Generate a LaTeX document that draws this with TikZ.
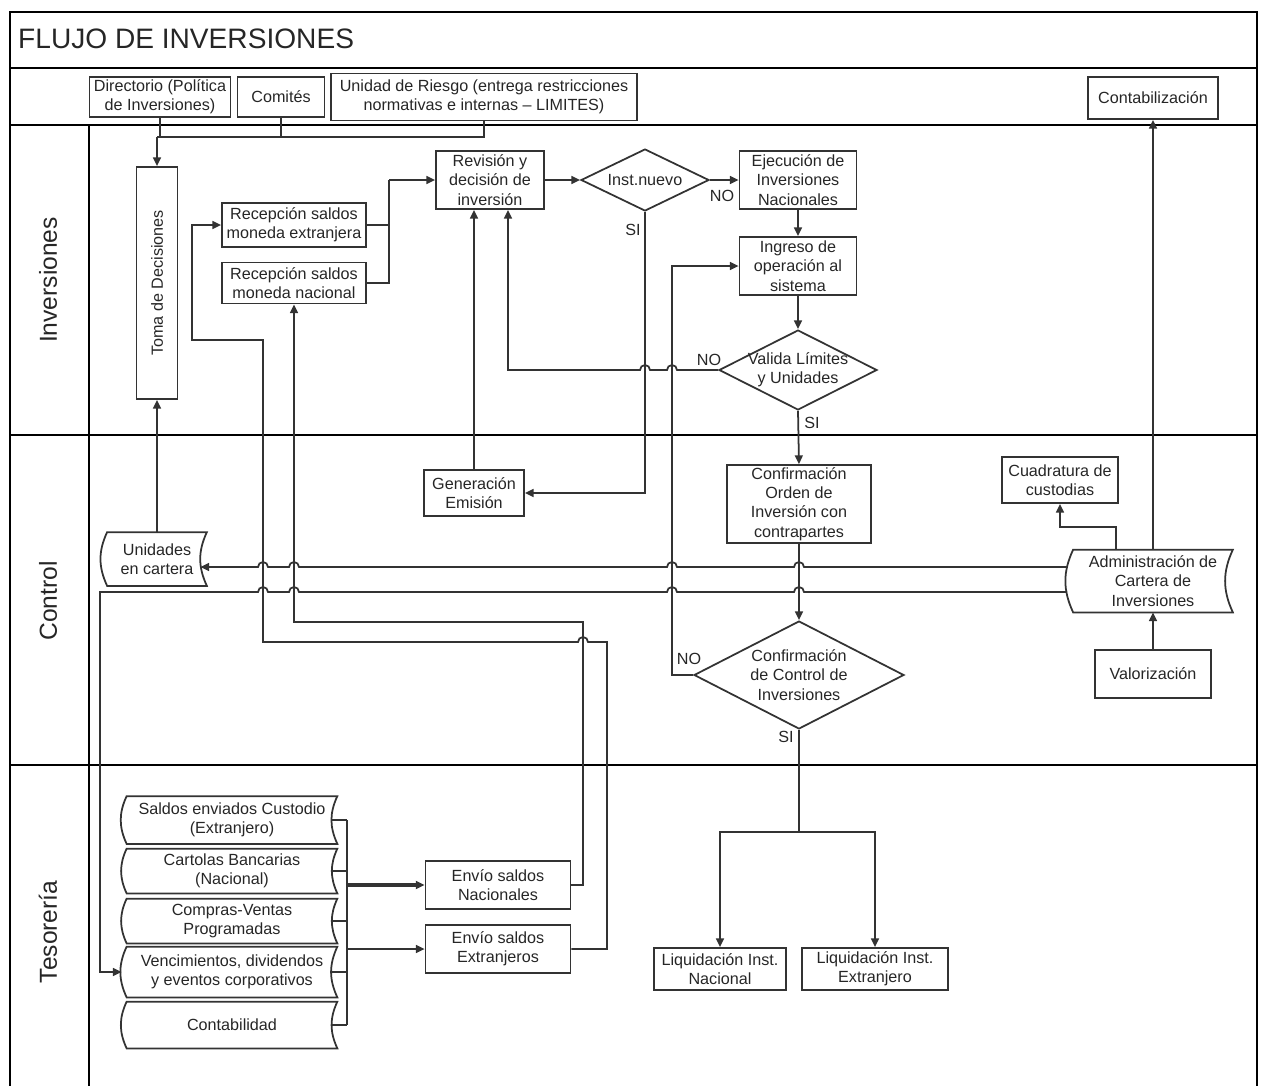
\documentclass[tikz,border=0pt]{standalone}
\usepackage{fontspec}
\setmainfont{Liberation Sans}
\usetikzlibrary{shapes.geometric,arrows.meta}
\newcommand\storedout[1]{
  \draw[conn] (#1.north west) to[bend right=25] (#1.south west)
    -- (#1.south east) to[bend left=25] (#1.north east) -- cycle;
}

\begin{document}
\begin{tikzpicture}[x=0.02cm, y=-0.02cm,
  conn/.style = {draw=black!80, line width=1pt},
  arr/.style = {conn, -{Triangle[length=5pt,width=4.5pt]}},
  box/.style = {draw=black!80, line width=1pt, rectangle, align=center, inner sep=1pt,
    font=\fontsize{9.2}{11}\selectfont, text=black!85},
  decision/.style = {box, diamond, aspect=2, inner sep=-3pt},
  doc/.style = {box, draw=none},
  lbl/.style = {font=\fontsize{9.2}{11}\selectfont, text=black!85, inner sep=0pt},
  lane/.style = {rotate=90, font=\fontsize{14}{16}\selectfont, text=black!85},
  frame/.style = {draw=black, line width=1.2pt}]
	\useasboundingbox (0,0) rectangle (1262,1086);
	% frame and lanes
	\draw[frame] (10,1086) -- (10,12) -- (1257,12) -- (1257,1086);
	\draw[frame] (10,68) -- (1257,68);
	\draw[frame] (10,125) -- (1257,125);
	\draw[frame] (10,435) -- (1257,435);
	\draw[frame] (10,765) -- (1257,765);
	\draw[frame] (89,125) -- (89,1086);
	\node[anchor=west, font=\fontsize{16}{19}\selectfont, text=black!85] (title) at (12,39) {FLUJO DE INVERSIONES};
	\node[lane] (linv) at (48,280) {Inversiones};
	\node[lane] (lctl) at (48,601) {Control};
	\node[lane] (ltes) at (48,932) {Tesorería};

	% header
	\node[box, minimum width=2.82cm, minimum height=0.8cm] (dir) at (160,97) {Directorio (Política\\de Inversiones)};
	\node[box, minimum width=1.74cm, minimum height=0.8cm] (com) at (281,97) {Comités};
	\node[box, minimum width=6.12cm, minimum height=0.94cm] (uni) at (484,97) {Unidad de Riesgo (entrega restricciones\\normativas e internas -- LIMITES)};
	\node[box, minimum width=2.6cm, minimum height=0.84cm] (conta) at (1153,98) {Contabilización};

	% inversiones
	\node[box, minimum width=0.82cm, minimum height=4.64cm] (toma) at (157,283) {\rotatebox{90}{Toma de Decisiones}};
	\node[box, minimum width=2.88cm, minimum height=0.88cm] (recx) at (294,225) {Recepción saldos\\moneda extranjera};
	\node[box, minimum width=2.88cm, minimum height=0.82cm] (recn) at (294,283) {Recepción saldos\\moneda nacional};
	\node[box, minimum width=2.16cm, minimum height=1.16cm] (rev) at (490,180) {Revisión y\\decisión de\\inversión};
	\node[decision, minimum width=2.56cm, minimum height=1.24cm] (inst) at (645,180) {Inst.nuevo};
	\node[box, minimum width=2.34cm, minimum height=1.16cm] (eje) at (798,180) {Ejecución de\\Inversiones\\Nacionales};
	\node[box, minimum width=2.34cm, minimum height=1.16cm] (ing) at (798,266) {Ingreso de\\operación al\\sistema};
	\node[decision, minimum width=3.16cm, minimum height=1.6cm] (val) at (798,370) {Valida Límites\\y Unidades};

	% control
	\node[box, minimum width=2cm, minimum height=0.92cm] (gen) at (474,493) {Generación\\Emisión};
	\node[doc, minimum width=1.96cm, minimum height=1.04cm] (unid) at (157,559) {Unidades\\en cartera};
	\node[box, minimum width=2.88cm, minimum height=1.56cm] (conf) at (799,504) {Confirmación\\Orden de\\Inversión con\\contrapartes};
	\node[box, minimum width=2.32cm, minimum height=0.92cm] (cuad) at (1060,480) {Cuadratura de\\custodias};
	\node[doc, minimum width=3.16cm, minimum height=1.22cm] (adm) at (1153,581) {Administración de\\Cartera de\\Inversiones};
	\node[box, minimum width=2.32cm, minimum height=0.96cm] (valz) at (1153,674) {Valorización};
	\node[decision, aspect=1.95, minimum width=4.2cm, minimum height=2.16cm] (ctl) at (799,675) {Confirmación\\de Control de\\Inversiones};

	% tesoreria
	\node[doc, minimum width=4.18cm, minimum height=0.92cm] (sal) at (232,820) {Saldos enviados Custodio\\(Extranjero)};
	\node[doc, minimum width=4.18cm, minimum height=0.86cm] (car) at (232,871) {Cartolas Bancarias\\(Nacional)};
	\node[doc, minimum width=4.18cm, minimum height=0.86cm] (cvp) at (232,921) {Compras-Ventas\\Programadas};
	\node[doc, minimum width=4.18cm, minimum height=0.98cm] (ven) at (232,972) {Vencimientos, dividendos\\y eventos corporativos};
	\node[doc, minimum width=4.18cm, minimum height=0.9cm] (cont) at (232,1025) {Contabilidad};
	\node[box, minimum width=2.9cm, minimum height=0.96cm] (envn) at (498,885) {Envío saldos\\Nacionales};
	\node[box, minimum width=2.9cm, minimum height=0.96cm] (enve) at (498,949) {Envío saldos\\Extranjeros};
	\node[box, minimum width=2.64cm, minimum height=0.84cm] (liqn) at (720,969) {Liquidación Inst.\\Nacional};
	\node[box, minimum width=2.92cm, minimum height=0.84cm] (liqe) at (875,969) {Liquidación Inst.\\Extranjero};

	\storedout{unid}
	\storedout{adm}
	\storedout{sal}
	\storedout{car}
	\storedout{cvp}
	\storedout{ven}
	\storedout{cont}

	\node[lbl] (no1) at (722,196) {NO};
	\node[lbl] (si1) at (633,230) {SI};
	\node[lbl] (no2) at (709,360) {NO};
	\node[lbl] (si2) at (812,423) {SI};
	\node[lbl] (no3) at (689,659) {NO};
	\node[lbl] (si3) at (786,737) {SI};

	\coordinate (hdr) at (157,137);
	\coordinate (rjn) at (389,180);
	\coordinate (liqjn) at (799,832);
	\coordinate (bus) at (347,0);

	\draw[conn] (uni.south) |- (hdr);
	\draw[conn] (dir.south) -- (dir.south |- hdr);
	\draw[conn] (com.south) -- (com.south |- hdr);
	\draw[arr] (hdr) -- (toma.north);
	\draw[arr] (unid.north) -- (toma.south);
	\draw[conn] (recx.east) -| (rjn);
	\draw[conn] (recn.east) -| (rjn);
	\draw[arr] (rjn) -- (rev.west);
	\draw[arr] (rev.east) -- (inst.west);
	\draw[arr] (inst.east) -- (eje.west);
	\draw[arr] (eje) -- (ing);
	\draw[arr] (ing) -- (val);
	\draw[arr] (inst.south) |- (gen.east);
	\draw[arr] (gen.north) -- (gen.north |- rev.south);
	\draw[arr] (val.west) -- (677,370) arc[start angle=0,end angle=180,radius=0.1cm]
		-- (650,370) arc[start angle=0,end angle=180,radius=0.1cm]
		-- (508,370) -- (rev.south -| 508,0);
	\draw[arr] (val.south) -- (conf.north);
	\draw[arr] (conf.south) -- (ctl.north);
	\draw[arr] (ctl.west) -- (ctl.west -| 672,0) |- (ing.west);
	\draw[conn] (ctl.south) -- (liqjn);
	\draw[arr] (liqjn) -| (liqn.north);
	\draw[arr] (liqjn) -| (liqe.north);

	\draw[arr] ([xshift=-0.12cm,yshift=0.28cm]adm.west) -- (804,567) arc[start angle=0,end angle=180,radius=0.1cm]
		-- (677,567) arc[start angle=0,end angle=180,radius=0.1cm]
		-- (299,567) arc[start angle=0,end angle=180,radius=0.1cm]
		-- (268,567) arc[start angle=0,end angle=180,radius=0.1cm]
		-- ([xshift=-0.13cm,yshift=-0.16cm]unid.east);
	\draw[arr] ([xshift=-0.12cm,yshift=-0.22cm]adm.west) -- (804,592) arc[start angle=0,end angle=180,radius=0.1cm]
		-- (677,592) arc[start angle=0,end angle=180,radius=0.1cm]
		-- (299,592) arc[start angle=0,end angle=180,radius=0.1cm]
		-- (268,592) arc[start angle=0,end angle=180,radius=0.1cm]
		-- (100,592) |- ([xshift=-0.1cm]ven.west);
	\draw[arr] (adm.north -| 1116,0) -- (1116,527) -| (cuad.south);
	\draw[arr] (adm.north) -- (conta.south);
	\draw[arr] (valz.north) -- (adm.south);

	\draw[conn] ([xshift=-0.13cm]sal.east) -- (sal.east -| bus);
	\draw[conn] ([xshift=-0.13cm]car.east) -- (car.east -| bus);
	\draw[conn] ([xshift=-0.13cm]cvp.east) -- (cvp.east -| bus);
	\draw[conn] ([xshift=-0.13cm]ven.east) -- (ven.east -| bus);
	\draw[conn] ([xshift=-0.13cm]cont.east) -- (cont.east -| bus);
	\draw[conn] (sal.east -| bus) -- (cont.east -| bus);
	\draw[arr, line width=1.8pt] (envn.west -| bus) -- (envn.west);
	\draw[arr] (enve.west -| bus) -- (enve.west);
	\draw[arr] (envn.east) -| (583,622) -| (recn.south);
	\draw[arr] (enve.east) -| (607,642) -- (588,642) arc[start angle=0,end angle=180,radius=0.1cm]
		-- (263,642) -- (263,340) -- (192,340) |- (recx.west);
\end{tikzpicture}
\end{document}
